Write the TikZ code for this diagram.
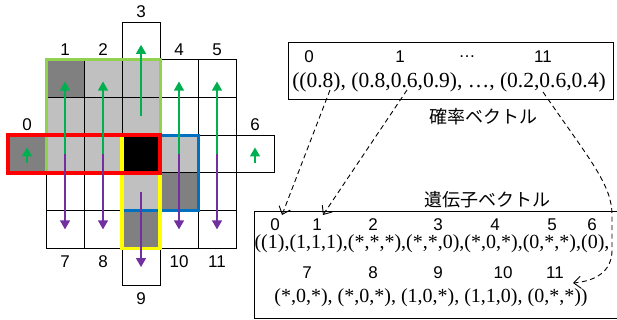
\documentclass[tikz,border=0pt]{standalone}
\usepackage{fontspec}
\setmainfont{Liberation Serif}
\newfontfamily\labelfont{Liberation Sans}
\newfontfamily\jpfont{Noto Sans CJK JP}
\usepackage{xcolor}
\usetikzlibrary{arrows.meta,positioning}

\definecolor{darkcell}{HTML}{808080}
\definecolor{lightcell}{HTML}{C0C0C0}
\definecolor{upgreen}{HTML}{00B050}
\definecolor{downpurple}{HTML}{7030A0}
\definecolor{framegreen}{HTML}{92D050}
\definecolor{frameblue}{HTML}{0070C0}
\definecolor{frameyellow}{HTML}{FFFF00}

\begin{document}
\begin{tikzpicture}[
    x=1pt, y=-1pt,
    cell/.style={
        draw,
        line width=0.9pt,
        minimum width=38pt,
        minimum height=37.7pt,
        inner sep=0pt,
        outer sep=0pt
    },
    num/.style={font=\labelfont\fontsize{17}{17}\selectfont, inner sep=0pt},
    vec/.style={font=\fontsize{20}{20}\selectfont, inner sep=0pt},
    title/.style={font=\jpfont\fontsize{18}{18}\selectfont, inner sep=0pt},
    vecbox/.style={draw, line width=0.8pt, inner sep=0pt},
    area/.style={line width=3pt},
    upper/.style={draw=upgreen, line width=1.3pt, -{Triangle[length=9pt,width=10pt]}},
    lower/.style={draw=downpurple, line width=1.3pt, -{Triangle[length=9pt,width=10pt]}},
    link/.style={dash pattern=on 5pt off 3.5pt, line width=0.9pt, -{Straight Barb[length=7pt,width=12pt]}}
]
\useasboundingbox (0,0) rectangle (617,320);

% grid cells
\foreach \r/\c/\f in {0/3/white,
    1/1/darkcell, 1/2/lightcell, 1/3/lightcell, 1/4/white, 1/5/white,
    2/1/lightcell, 2/2/lightcell, 2/3/lightcell, 2/4/white, 2/5/white,
    3/0/darkcell, 3/1/lightcell, 3/2/lightcell, 3/3/black, 3/4/lightcell, 3/5/white, 3/6/white,
    4/1/white, 4/2/white, 4/3/lightcell, 4/4/darkcell, 4/5/white,
    5/1/white, 5/2/white, 5/3/darkcell, 5/4/white, 5/5/white,
    6/3/white} {
    \node[cell, fill=\f] (cell\r\c) at ({27+38*\c},{40.85+37.7*\r}) {};
}

% frames
\draw[area, draw=framegreen] (cell11.north west) rectangle (cell33.south east);
\draw[area, draw=frameblue] (cell33.north west) rectangle (cell44.south east);
\draw[area, draw=frameyellow, line width=3.3pt] (cell33.north west) rectangle (cell53.south east);
\draw[area, draw=red, line width=4.5pt] (cell30.north west) rectangle (cell33.south east);

% cell numbers
\node[num, above=4pt of cell30] (lab0) {0};
\node[num, above=4pt of cell11] (lab1) {1};
\node[num, above=4pt of cell12] (lab2) {2};
\node[num, above=4pt of cell03] (lab3) {3};
\node[num, above=4pt of cell14] (lab4) {4};
\node[num, above=4pt of cell15] (lab5) {5};
\node[num, above=4pt of cell36] (lab6) {6};
\node[num, below=7pt of cell51] (lab7) {7};
\node[num, below=7pt of cell52] (lab8) {8};
\node[num, below=7pt of cell63] (lab9) {9};
\node[num, below=7pt of cell54] (lab10) {10};
\node[num, below=7pt of cell55] (lab11) {11};

% moves
\draw[upper, shorten >=3pt] (cell31.center) -- (cell11.center);
\draw[upper, shorten >=3pt] (cell32.center) -- (cell12.center);
\draw[upper, shorten >=4pt] (cell23.center) -- (cell03.center);
\draw[upper, shorten >=3pt] (cell34.center) -- (cell14.center);
\draw[upper, shorten >=3pt] (cell35.center) -- (cell15.center);
\draw[upper] ([yshift=-9.5pt]cell30.center) -- ([yshift=6.5pt]cell30.center);
\draw[upper] ([yshift=-9.5pt]cell36.center) -- ([yshift=6.5pt]cell36.center);
\draw[lower] (cell31.center) -- (cell51.center);
\draw[lower] (cell32.center) -- (cell52.center);
\draw[lower] (cell43.center) -- (cell63.center);
\draw[lower] (cell34.center) -- (cell54.center);
\draw[lower] (cell35.center) -- (cell55.center);

% probability vector
\node[vecbox, minimum width=325pt, minimum height=57pt] (probbox) at (450.5,70.5) {};
\node[num] (p0) at (309,57) {0};
\node[num] (p1) at (400,57) {1};
\node[num] (pdots) at (467,57) {…};
\node[num] (p11) at (543,57) {11};
\node[vec, font=\fontsize{21.5}{21.5}\selectfont] (probvec) at (449,82) {((0.8), (0.8,0.6,0.9), …, (0.2,0.6,0.4)};
\node[title] (probtitle) at (483,117) {確率ベクトル};

% gene vector
\node[vecbox, minimum width=371pt, minimum height=107pt, anchor=north west] (genebox) at (254,211) {};
\node[title] (genetitle) at (487,200) {遺伝子ベクトル};
\node[num] (g0) at (275,225) {0};
\node[num] (g1) at (317,225) {1};
\node[num] (g2) at (373,225) {2};
\node[num] (g3) at (438,225) {3};
\node[num] (g4) at (495,225) {4};
\node[num] (g5) at (552,225) {5};
\node[num] (g6) at (592,225) {6};
\node[vec] (generow1) at (432,244) {((1),(1,1,1),(*,*,*),(*,*,0),(*,0,*),(0,*,*),(0),};
\node[num] (g7) at (307,273) {7};
\node[num] (g8) at (373,273) {8};
\node[num] (g9) at (438,273) {9};
\node[num] (g10) at (503,273) {10};
\node[num] (g11) at (555,273) {11};
\node[vec] (generow2) at (431,298) {(*,0,*), (*,0,*), (1,0,*), (1,1,0), (0,*,*))};

% links
\coordinate (from0) at (330,90);
\coordinate (from1) at (407,90);
\coordinate (from11) at (543,92);
\coordinate (to0) at (282,215);
\coordinate (to1) at (323,215);
\coordinate (to11) at (573,283);
\draw[link] (from0) -- (to0);
\draw[link] (from1) -- (to1);
\draw[link] (from11) .. controls (590,160) and (612,185) .. (612,215)
    -- (612,250) .. controls (612,272) and (595,281) .. (to11);
\end{tikzpicture}
\end{document}
